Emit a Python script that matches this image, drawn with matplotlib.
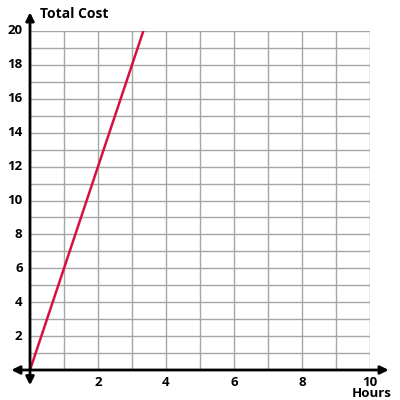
import matplotlib
matplotlib.use("Agg")
import matplotlib.pyplot as plt

hours = [0, 10 / 3]
cost = [0, 20]
x_ticks = [2, 4, 6, 8, 10]
y_ticks = [2, 4, 6, 8, 10, 12, 14, 16, 18, 20]

plt.rcParams['font.family'] = ['Open Sans', 'DejaVu Sans']

fig = plt.figure(figsize=(4, 4), dpi=100)
ax = fig.add_axes([0.075, 0.075, 0.85, 0.8475])
ax.set_xlim(0, 10)
ax.set_ylim(0, 20)

# grid every unit
for v in range(1, 11):
    ax.axvline(v, color='#a6a6a6', lw=1, zorder=1)
for v in range(1, 21):
    ax.axhline(v, color='#a6a6a6', lw=1, zorder=1)

ax.plot(hours, cost, color='#d8103f', lw=1.8, zorder=3)

for s in ax.spines.values():
    s.set_visible(False)
ax.set_xticks([])
ax.set_yticks([])

# axes with arrows
ax.annotate('', xy=(-0.55, 0), xytext=(10.55, 0), xycoords='data',
            arrowprops=dict(arrowstyle='<|-|>', color='black', lw=2, mutation_scale=12,
                            shrinkA=0, shrinkB=0), annotation_clip=False, zorder=4)
ax.annotate('', xy=(0, 21.1), xytext=(0, -0.9), xycoords='data',
            arrowprops=dict(arrowstyle='<|-|>', color='black', lw=2, mutation_scale=12,
                            shrinkA=0, shrinkB=0), annotation_clip=False, zorder=4)

for t in x_ticks:
    ax.text(t, -0.35, str(t), ha='center', va='top', fontsize=9.5, fontweight='bold')
for t in y_ticks:
    ax.text(-0.22, t, str(t), ha='right', va='center', fontsize=9.5, fontweight='bold')

ax.text(0.3, 21.0, 'Total Cost', ha='left', va='center', fontsize=10, fontweight='bold')
ax.text(10.65, -1.4, 'Hours', ha='right', va='center', fontsize=9.5, fontweight='bold')

fig.savefig('out.png', dpi=100, facecolor='white')
